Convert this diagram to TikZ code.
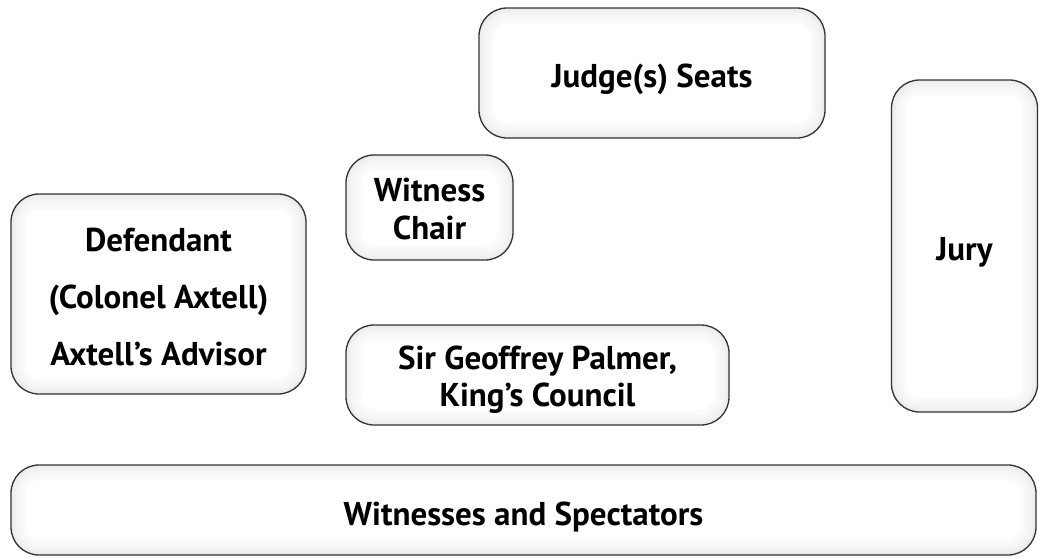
\documentclass[tikz,border=0pt]{standalone}
\usepackage{fontspec}
\setmainfont{PT Sans}
\begin{document}
\begin{tikzpicture}[x=1pt,y=-1pt,
  room/.style={draw=black!80, line width=1.3pt, rounded corners=28pt, fill=white,
    inner sep=0pt,
    path picture={
      \foreach \w/\c in {30/2,22/3,15/4.5,9/6,4/8}{
        \draw[black!\c, line width=\w pt, rounded corners=28pt]
          (path picture bounding box.south west) rectangle (path picture bounding box.north east);}
    }},
  roomtext/.style={align=center, inner sep=0pt, font=\bfseries\fontsize{33}{40}\selectfont}]
\useasboundingbox (0,0) rectangle (1039,557);
\node[room, minimum width=346pt, minimum height=130pt] (judge) at (652,73) {};
\node[room, minimum width=146pt, minimum height=332pt] (jury) at (964.5,246) {};
\node[room, minimum width=167pt, minimum height=105pt] (wchair) at (429.5,207.5) {};
\node[room, minimum width=295pt, minimum height=200pt] (defendant) at (158.5,294) {};
\node[room, minimum width=383pt, minimum height=100pt] (palmer) at (537.5,375) {};
\node[room, minimum width=1025pt, minimum height=90pt] (spect) at (523.5,510) {};
\node[roomtext] (judgeT) at ([yshift=-6pt]judge.center) {Judge(s) Seats};
\node[roomtext] (juryT) at ([yshift=-6pt]jury.center) {Jury};
\node[roomtext] (wchairT) at ([yshift=-1pt]wchair.center) {Witness\\[-2pt]Chair};
\node[roomtext] (defendantT) at ([yshift=-3pt]defendant.center) {Defendant\\[17pt](Colonel Axtell)\\[17pt]Axtell's Advisor};
\node[roomtext] (palmerT) at ([yshift=-5pt]palmer.center) {Sir Geoffrey Palmer,\\[-3pt]King's Council};
\node[roomtext] (spectT) at ([yshift=-7pt]spect.center) {Witnesses and Spectators};
\end{tikzpicture}
\end{document}
